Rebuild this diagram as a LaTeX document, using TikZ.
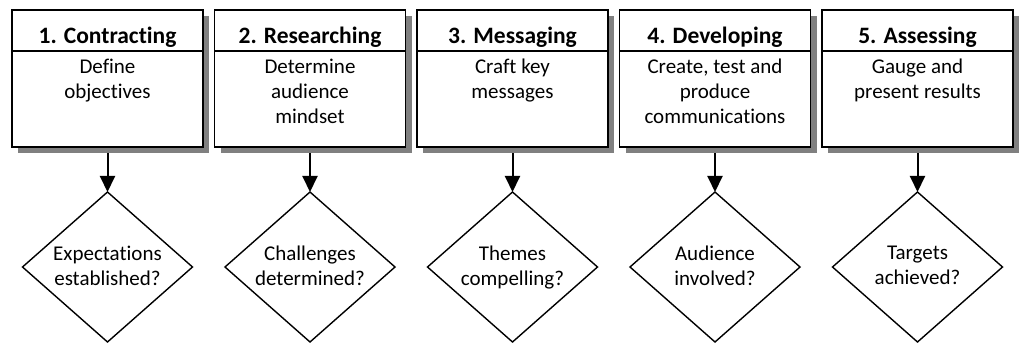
\documentclass[tikz,border=0pt]{standalone}
\usepackage{fontspec}
\setmainfont{Carlito}[Ligatures=NoCommon]
\usetikzlibrary{shapes.geometric,arrows.meta,shadows,backgrounds}
\definecolor{shadowgray}{HTML}{808080}
\begin{document}
\begin{tikzpicture}[x=1pt,y=-1pt,
  stagebox/.style={draw=black, line width=1.8pt, fill=white, minimum width=191pt,
    minimum height=137pt, inner sep=0pt, outer sep=0pt, anchor=north west,
    drop shadow={shadow xshift=6pt, shadow yshift=-6pt, fill=shadowgray, opacity=1}},
  headrule/.style={line width=1.5pt},
  headtext/.style={font=\fontsize{23.5}{27}\selectfont\bfseries, anchor=base, inner sep=0pt},
  bodytext/.style={font=\fontsize{21}{25}\selectfont, align=center, anchor=north,
    inner sep=0pt, execute at begin node={\rule{0pt}{17pt}}},
  decision/.style={diamond, draw=black, line width=1.4pt, fill=white, inner sep=0pt,
    outer sep=0pt, minimum width=170pt, minimum height=150pt},
  flow/.style={line width=2pt, -{Triangle[length=16pt,width=15pt]}}
]
\useasboundingbox (0,0) rectangle (1023,343);
\foreach \i/\head/\body/\q in {
  1/{1. Contracting}/{Define\\objectives}/{Expectations\\established?},
  2/{2. Researching}/{Determine\\audience\\mindset}/{Challenges\\determined?},
  3/{3. Messaging}/{Craft key\\messages}/{Themes\\compelling?},
  4/{4. Developing}/{Create, test and\\produce\\communications}/{Audience\\involved?},
  5/{5. Assessing}/{Gauge and\\present results}/{Targets\\achieved?}}{
  \pgfmathsetmacro{\lx}{12+202.5*(\i-1)}
  \pgfmathsetmacro{\cx}{\lx+95.5}
  \node[stagebox] (b\i) at (\lx,10) {};
  \draw[headrule] ([yshift=-41pt]b\i.north west) -- ([yshift=-41pt]b\i.north east);
  \node[headtext] (h\i) at (\cx,43) {\head};
  \node[bodytext] (t\i) at (\cx,59) {\body};
  \node[decision] (d\i) at (\cx,267) {};
  \node[bodytext] (q\i) at (\cx,246) {\q};
  \begin{pgfonlayer}{background}
    \draw[flow] (b\i) -- (d\i);
  \end{pgfonlayer}
}
\end{tikzpicture}
\end{document}
